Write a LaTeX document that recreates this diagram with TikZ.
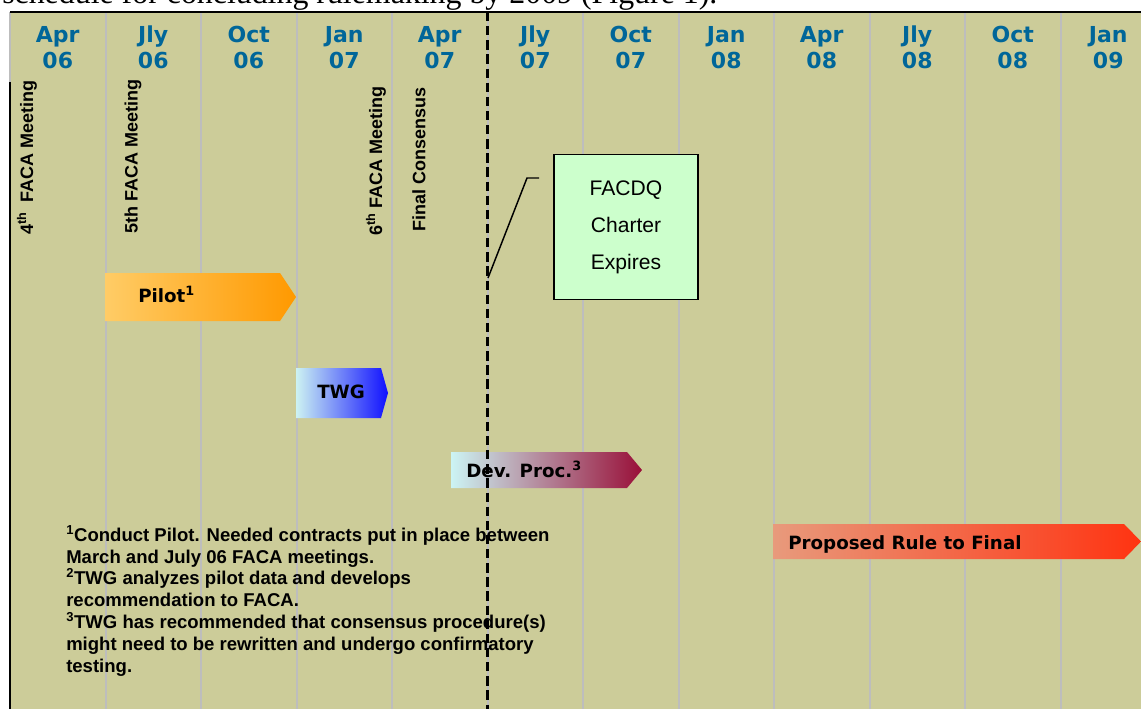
\documentclass[tikz,border=0pt]{standalone}
\usepackage{fontspec}
\setmainfont{Liberation Sans}
\newfontfamily\verd{DejaVu Sans}
\newfontfamily\tms{Liberation Serif}
\definecolor{bgol}{HTML}{CCCC99}
\definecolor{gridgray}{HTML}{BDBDBD}
\definecolor{hdrblue}{HTML}{006699}
\definecolor{pilotA}{HTML}{FFCC66}
\definecolor{pilotB}{HTML}{FF9900}
\definecolor{twgA}{HTML}{CCF2F2}
\definecolor{twgB}{HTML}{1010FF}
\definecolor{devA}{HTML}{CCF4F4}
\definecolor{devB}{HTML}{990F38}
\definecolor{propA}{HTML}{E89A7C}
\definecolor{propB}{HTML}{FF3311}
\definecolor{boxgreen}{HTML}{CCFFCC}
\tikzset{
  hdr/.style={font=\verd\bfseries\fontsize{16.5}{19.6}\selectfont, text=hdrblue, align=center, inner sep=0, anchor=base},
  vlab/.style={font=\bfseries\fontsize{13.5}{16}\selectfont, rotate=90, anchor=west, inner sep=0},
  gridline/.style={draw=gridgray, line width=1.5pt},
  barlab/.style={font=\verd\bfseries\fontsize{13.7}{16}\selectfont, anchor=base west, inner sep=0},
  notes/.style={font=\bfseries\fontsize{13.9}{16.35}\selectfont, align=left, anchor=base west, inner sep=0},
  callout/.style={draw=black, line width=1.1pt},
  ddash/.style={draw=black, line width=1.9pt, dash pattern=on 7pt off 3.6pt}
}
\begin{document}
\begin{tikzpicture}[x=0.75pt,y=-0.75pt]
\useasboundingbox (0,0) rectangle (1141,709);
\begin{scope}
\clip (0,0) rectangle (1141,709);
\node[anchor=base west, inner sep=0, font=\tms\fontsize{23.9}{28}\selectfont] (caption) at (2,4) {schedule for concluding rulemaking by 2009 (Figure 1).};
\fill[bgol] (10,12) rectangle (1141,709);
\foreach \k in {0,...,11} {
  \draw[gridline] ({10+95.5*\k},12) -- ({10+95.5*\k},709);
}
\draw[line width=1.1pt] (10,12) -- (1141,12);
\draw[line width=1.1pt] (10,82) -- (10,709);
% header
\foreach \m/\y [count=\i from 0] in {Apr/06,Jly/06,Oct/06,Jan/07,Apr/07,Jly/07,Oct/07,Jan/08,Apr/08,Jly/08,Oct/08,Jan/09} {
  \node[hdr] (h\i) at ({10+95.5*(\i+0.5)},69) {\m\\\y};
}
% vertical labels
\node[vlab] (m4) at (27,235) {4\textsuperscript{th}\ \ FACA Meeting};
\node[vlab] (m5) at (133,234) {5th FACA Meeting};
\node[vlab] (m6) at (376,236) {6\textsuperscript{th} FACA Meeting};
\node[vlab] (fc) at (419,232) {Final Consensus};
% bars
\shade[left color=pilotA, right color=pilotB] (105,273) -- (280,273) -- (296,297) -- (280,321) -- (105,321) -- cycle;
\node[barlab] (pilot) at (138,302) {Pilot\textsuperscript{1}};
\shade[left color=twgA, right color=twgB] (296,368) -- (381,368) -- (388,393) -- (381,418) -- (296,418) -- cycle;
\node[barlab] (twg) at (317,398) {TWG};
\shade[left color=devA, right color=devB] (451,452) -- (627,452) -- (642,470) -- (627,488) -- (451,488) -- cycle;
\node[barlab] (dev) at (466,477) {Dev. Proc.\textsuperscript{3}};
\shade[left color=propA, right color=propB] (773,524) -- (1124,524) -- (1141,541.5) -- (1124,559) -- (773,559) -- cycle;
\node[barlab] (prop) at (788,549) {Proposed Rule to Final};
% FACDQ box
\node[draw=black, line width=1.1pt, fill=boxgreen, minimum width=108pt, minimum height=108.75pt, align=center,
      font=\fontsize{15.8}{27.75}\selectfont] (facdq) at (626,227) {FACDQ\\Charter\\Expires};
% footnotes
\node[notes] (fn) at (66,672) {\textsuperscript{1}Conduct Pilot. Needed contracts put in place between\\
March and July 06 FACA meetings.\\
\textsuperscript{2}TWG analyzes pilot data and develops\\
recommendation to FACA.\\
\textsuperscript{3}TWG has recommended that consensus procedure(s)\\
might need to be rewritten and undergo confirmatory\\
testing.};
% dashed line and callout
\coordinate (dtop) at (487.5,12);
\coordinate (dbot) at (487.5,709);
\draw[ddash] (dtop) -- (dbot);
\coordinate (c1) at (539,178);
\coordinate (c2) at (527,178);
\coordinate (c3) at (488,278);
\draw[callout] (c1) -- (c2) -- (c3);
\end{scope}
\end{tikzpicture}
\end{document}
